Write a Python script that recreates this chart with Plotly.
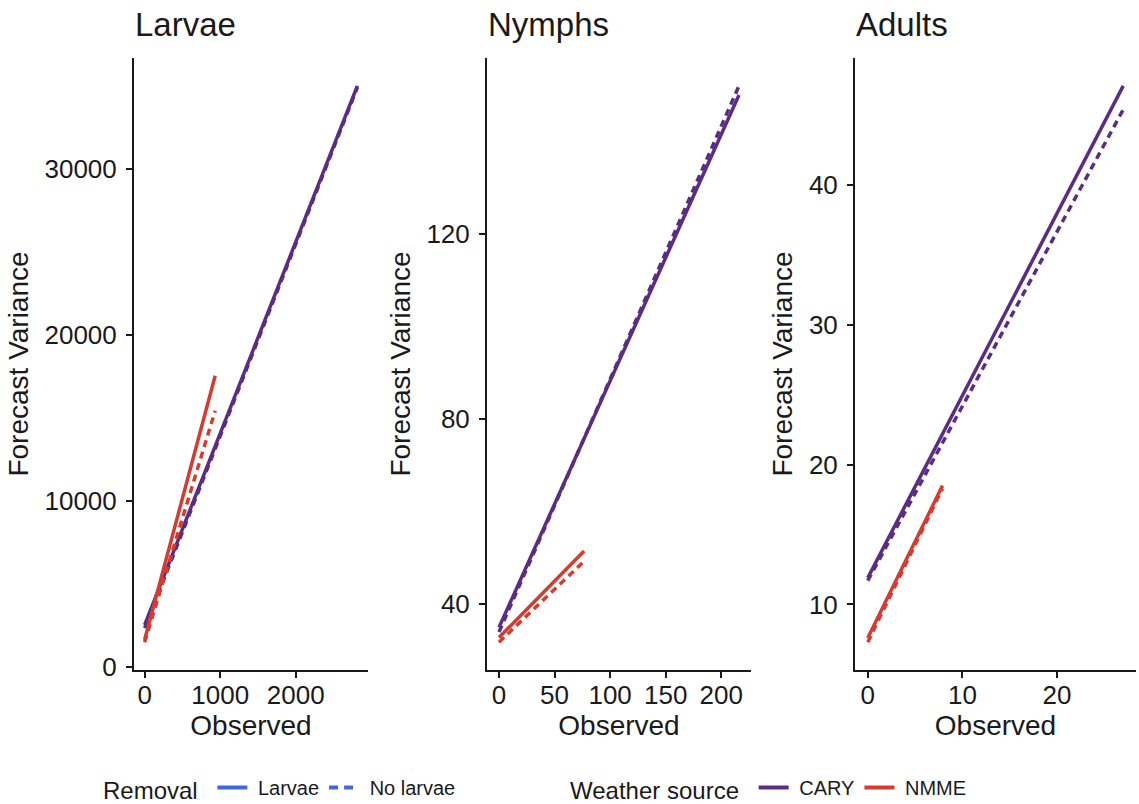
import plotly.graph_objects as go

# ---------------- data ----------------
stages = ["Larvae", "Nymphs", "Adults"]
cary_observed = [[0, 2816], [0, 216], [0, 27.0]]
nmme_observed = [[0, 934], [0, 76.6], [0, 7.9]]
cary_larvae_var = [[2540, 35000], [35.0, 150.0], [11.9, 47.1]]
cary_nolarvae_var = [[2350, 34900], [34.0, 152.0], [11.7, 45.4]]
nmme_larvae_var = [[1650, 17540], [32.8, 51.5], [7.6, 18.5]]
nmme_nolarvae_var = [[1500, 15430], [31.8, 49.3], [7.3, 18.3]]
x_tickvals = [[0, 1000, 2000], [0, 50, 100, 150, 200], [0, 10, 20]]
y_tickvals = [[0, 10000, 20000, 30000], [40, 80, 120], [10, 20, 30, 40]]
removal_labels = ["Larvae", "No larvae"]
weather_labels = ["CARY", "NMME"]

# ---------------- styling ----------------
FONT = "Liberation Sans, Arial, sans-serif"
INK = "#1a1a1a"
weather_colors = {"CARY": "#5B2C83", "NMME": "#D63B30"}
removal_color = "#3F68E0"
W, H = 1139, 804
x_domains = [(134 / W, 368 / W), (487 / W, 751 / W), (855 / W, 1136 / W)]
y_domain = ((H - 670) / H, (H - 58) / H)
NB = "\u00a0"

fig = go.Figure()

for i, stage in enumerate(stages):
    xa = "x" if i == 0 else f"x{i+1}"
    ya = "y" if i == 0 else f"y{i+1}"
    series = [
        (cary_observed[i], cary_larvae_var[i], "CARY", "solid"),
        (cary_observed[i], cary_nolarvae_var[i], "CARY", "7px,5px"),
        (nmme_observed[i], nmme_larvae_var[i], "NMME", "solid"),
        (nmme_observed[i], nmme_nolarvae_var[i], "NMME", "7px,5px"),
    ]
    for xs, ys, ws, dash in series:
        fig.add_trace(go.Scatter(
            x=xs, y=ys, mode="lines", xaxis=xa, yaxis=ya, showlegend=False,
            line=dict(color=weather_colors[ws], width=3.5, dash=dash),
            hoverinfo="skip"))

    # ranges with 5% expansion like ggplot
    all_x = cary_observed[i] + nmme_observed[i]
    all_y = cary_larvae_var[i] + cary_nolarvae_var[i] + nmme_larvae_var[i] + nmme_nolarvae_var[i]
    xmin, xmax = min(all_x), max(all_x)
    ymin, ymax = min(all_y), max(all_y)
    xp, yp = 0.05 * (xmax - xmin), 0.05 * (ymax - ymin)

    axis_common = dict(
        showline=True, linecolor=INK, linewidth=2, ticks="outside", ticklen=6,
        tickwidth=2, tickcolor=INK, showgrid=False, zeroline=False,
        tickfont=dict(family=FONT, size=26, color=INK), fixedrange=True)
    fig.update_layout(**{
        ("xaxis" if i == 0 else f"xaxis{i+1}"): dict(
            axis_common, domain=list(x_domains[i]), anchor=ya,
            range=[xmin - xp, xmax + xp], tickmode="array", tickvals=x_tickvals[i],
            ticktext=[str(v) for v in x_tickvals[i]], ticklabelstandoff=-5,
            title=dict(text="Observed", font=dict(family=FONT, size=28, color=INK), standoff=2)),
        ("yaxis" if i == 0 else f"yaxis{i+1}"): dict(
            axis_common, domain=list(y_domain), anchor=xa,
            range=[ymin - yp, ymax + yp], tickmode="array", tickvals=y_tickvals[i],
            ticktext=[str(v) for v in y_tickvals[i]], ticklabelstandoff=4,
            title=dict(text="Forecast Variance", font=dict(family=FONT, size=28, color=INK), standoff=8)),
    })
    fig.add_annotation(
        text=stage, xref="paper", yref="paper", x=x_domains[i][0] - 1 / W, y=(H - 25) / H,
        xanchor="left", yanchor="middle", showarrow=False,
        font=dict(family=FONT, size=33, color=INK))

# ---------------- legends ----------------
for lab, dash in zip(removal_labels, ["solid", "9px,6px"]):
    fig.add_trace(go.Scatter(
        x=[None], y=[None], mode="lines", name=NB + lab, legend="legend",
        line=dict(color=removal_color, width=4, dash=dash)))
for lab in weather_labels:
    fig.add_trace(go.Scatter(
        x=[None], y=[None], mode="lines", name=NB + lab, legend="legend2",
        line=dict(color=weather_colors[lab], width=4)))

legend_common = dict(
    orientation="h", yanchor="middle", y=(H - 789) / H, xanchor="left",
    bgcolor="rgba(0,0,0,0)", font=dict(family=FONT, size=20, color=INK),
    itemwidth=30, itemclick=False, itemdoubleclick=False)
fig.update_layout(
    legend=dict(legend_common, x=101 / W,
                title=dict(text="Removal ", side="left", font=dict(family=FONT, size=24, color=INK))),
    legend2=dict(legend_common, x=568 / W,
                 title=dict(text="Weather source ", side="left", font=dict(family=FONT, size=24, color=INK))),
)

fig.update_layout(
    width=W, height=H, margin=dict(l=0, r=0, t=0, b=0, autoexpand=False),
    paper_bgcolor="white", plot_bgcolor="white",
    font=dict(family=FONT, color=INK),
)

fig.write_html("out.html")
